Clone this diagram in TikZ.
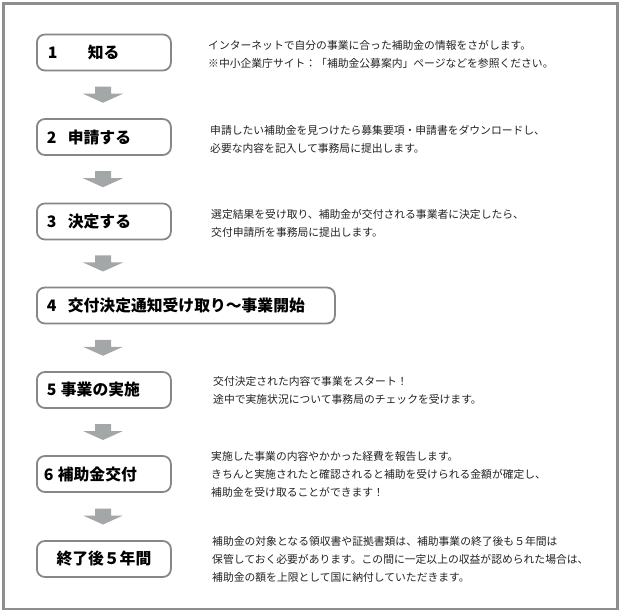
\documentclass[tikz,border=0pt]{standalone}
\usepackage{fontspec}
\setmainfont{Noto Sans CJK JP}
\usetikzlibrary{calc}
\definecolor{framegray}{HTML}{8C8E90}
\definecolor{boxgray}{HTML}{85888A}
\definecolor{arrowgray}{HTML}{A4A7A7}
\definecolor{txt}{HTML}{222222}
\newcommand{\steplbl}[3]{\hspace*{#1}\makebox[#2][l]{#3}}
\begin{document}
\begin{tikzpicture}[x=1pt,y=-1pt,
  stepbox/.style={draw=boxgray, line width=1.8pt, rounded corners=8pt, fill=white,
    minimum height=36pt, inner xsep=0pt, inner ysep=0pt, anchor=west,
    font=\fontsize{15.8}{18}\selectfont\bfseries, align=left, text width=134pt},
  desc/.style={anchor=west, inner sep=0pt, align=left,
    font=\fontsize{10.8}{18}\selectfont, text=txt},
  flowarrow/.style={fill=arrowgray}]
\useasboundingbox (0,0) rectangle (621,612);
\draw[framegray, line width=2.5pt] (3.5,3.5) rectangle (617.5,609);

\node[stepbox] (s1) at (36,52.5) {\steplbl{11pt}{40pt}{1}知る};
\node[stepbox] (s2) at (36,137) {\steplbl{10pt}{21pt}{2}申請する};
\node[stepbox] (s3) at (36,221.5) {\steplbl{10pt}{21pt}{3}決定する};
\node[stepbox, text width=298pt] (s4) at (36,305.5) {\steplbl{10pt}{21pt}{4}交付決定通知受け取り～事業開始};
\node[stepbox] (s5) at (36,390) {\steplbl{10pt}{14pt}{5}事業の実施};
\node[stepbox] (s6) at (36,474) {\steplbl{7pt}{14pt}{6}補助金交付};
\node[stepbox, align=center] (s7) at (36,559) {終了後５年間};

\foreach \a/\b in {s1/s2,s2/s3,s3/s4,s4/s5,s5/s6,s6/s7}{
  \fill[flowarrow, shift={($(\a.south west)!0.5!(\b.north west)+(67,0)$)}]
    (-8,-8) -- (8,-8) -- (8,-1) -- (20,-1) -- (0,8) -- (-20,-1) -- (-8,-1) -- cycle;
}

\node[desc] (d1) at (208,54) {インターネットで自分の事業に合った補助金の情報をさがします。\\※中小企業庁サイト：「補助金公募案内」ページなどを参照ください。};
\node[desc] (d2) at (210,139) {申請したい補助金を見つけたら募集要項・申請書をダウンロードし、\\必要な内容を記入して事務局に提出します。};
\node[desc] (d3) at (211,223) {選定結果を受け取り、補助金が交付される事業者に決定したら、\\交付申請所を事務局に提出します。};
\node[desc] (d5) at (213,390.5) {交付決定された内容で事業をスタート！\\途中で実施状況について事務局のチェックを受けます。};
\node[desc] (d6) at (211,474) {実施した事業の内容やかかった経費を報告します。\\きちんと実施されたと確認されると補助を受けられる金額が確定し、\\補助金を受け取ることができます！};
\node[desc] (d7) at (212,559) {補助金の対象となる領収書や証拠書類は、補助事業の終了後も５年間は\\保管しておく必要があります。この間に一定以上の収益が認められた場合は、\\補助金の額を上限として国に納付していただきます。};
\end{tikzpicture}
\end{document}
